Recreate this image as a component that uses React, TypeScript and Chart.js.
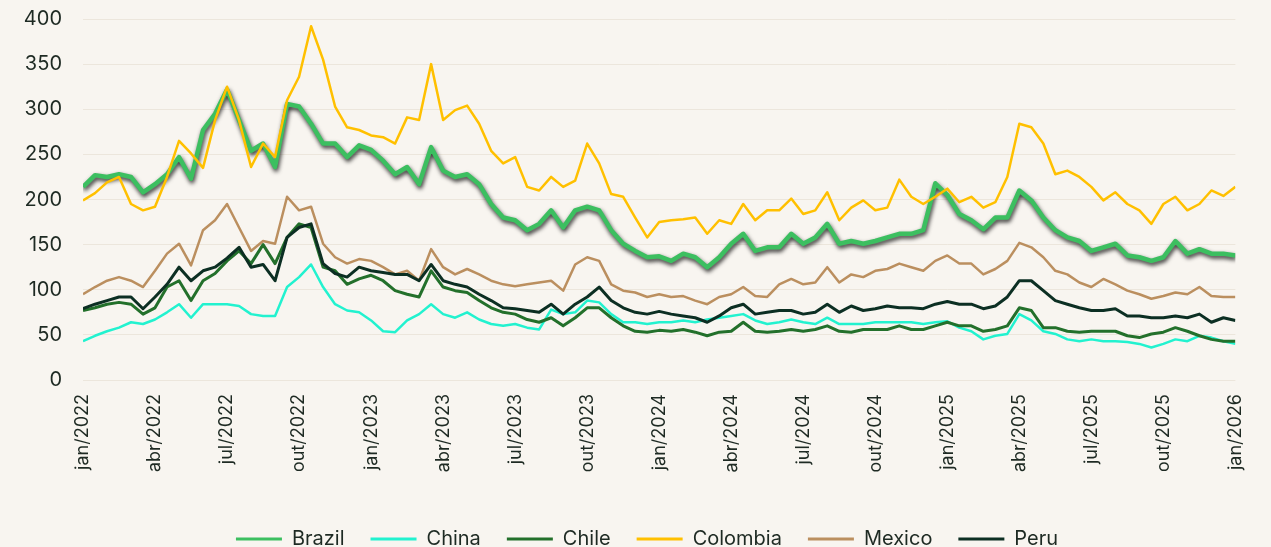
import React, { useEffect, useRef } from "react";
import { Chart, registerables } from "chart.js";

Chart.register(...registerables);

// Quarter tick labels (x axis, months since jan/2022, every 3 months)
const quarterLabels = [
  "jan/2022", "abr/2022", "jul/2022", "out/2022",
  "jan/2023", "abr/2023", "jul/2023", "out/2023",
  "jan/2024", "abr/2024", "jul/2024", "out/2024",
  "jan/2025", "abr/2025", "jul/2025", "out/2025",
  "jan/2026",
];

// Series sampled every half month from jan/2022 to jan/2026 (97 points)
const brazil = [
  214, 227, 225, 228, 225, 208, 217, 228, 247, 223, 277, 295, 322, 288, 254, 262, 236, 306, 303, 284, 262, 262, 247, 260, 255,
  243, 228, 236, 217, 258, 232, 225, 228, 217, 195, 180, 177, 166, 173, 188, 169, 188, 192, 188, 166, 151, 143, 136, 137,
  132, 140, 136, 125, 136, 151, 162, 143, 147, 147, 162, 151, 158, 173, 151, 154, 151, 154, 158, 162, 162, 166, 218, 205,
  184, 177, 167, 180, 180, 210, 199, 180, 166, 158, 154, 143, 147, 151, 138, 136, 132, 136, 154, 140, 145, 140, 140, 138,
];

const china = [
  43, 49, 54, 58, 64, 62, 67, 75, 84, 69, 84, 84, 84, 82, 73, 71, 71, 103, 114, 128, 103, 84, 77, 75, 66,
  54, 53, 66, 73, 84, 73, 69, 75, 67, 62, 60, 62, 58, 56, 78, 73, 75, 88, 86, 73, 64, 64, 62, 64,
  64, 66, 64, 67, 69, 71, 73, 66, 62, 64, 67, 64, 62, 69, 62, 62, 62, 64, 64, 64, 64, 62, 64, 65,
  58, 54, 45, 49, 51, 73, 66, 54, 51, 45, 43, 45, 43, 43, 42, 40, 36, 40, 45, 43, 49, 47, 43, 40,
];

const chile = [
  77, 80, 84, 86, 84, 73, 80, 103, 110, 88, 110, 118, 132, 143, 129, 150, 129, 158, 173, 169, 125, 121, 106, 112, 116,
  110, 99, 95, 92, 121, 103, 99, 97, 88, 80, 75, 73, 67, 64, 69, 60, 69, 80, 80, 69, 60, 54, 53, 55,
  54, 56, 53, 49, 53, 54, 64, 54, 53, 54, 56, 54, 56, 60, 54, 53, 56, 56, 56, 60, 56, 56, 60, 64,
  60, 60, 54, 56, 60, 80, 77, 58, 58, 54, 53, 54, 54, 54, 49, 47, 51, 53, 58, 54, 49, 45, 43, 43,
];

const colombia = [
  199, 207, 219, 225, 195, 188, 192, 225, 265, 251, 235, 288, 325, 288, 236, 262, 247, 310, 336, 392, 355, 303, 280, 277, 271,
  269, 262, 291, 288, 350, 288, 299, 304, 284, 254, 240, 247, 214, 210, 225, 214, 221, 262, 240, 206, 203, 180, 158, 175,
  177, 178, 180, 162, 177, 173, 195, 177, 188, 188, 201, 184, 188, 208, 177, 191, 199, 188, 191, 222, 203, 195, 203, 212,
  197, 203, 191, 197, 225, 284, 280, 262, 228, 232, 225, 214, 199, 208, 195, 188, 173, 195, 203, 188, 195, 210, 204, 214,
];

const mexico = [
  95, 103, 110, 114, 110, 103, 121, 140, 151, 127, 166, 177, 195, 169, 143, 154, 151, 203, 188, 192, 151, 136, 129, 134, 132,
  125, 117, 121, 110, 145, 125, 117, 123, 117, 110, 106, 104, 106, 108, 110, 99, 128, 136, 132, 106, 99, 97, 92, 95,
  92, 93, 88, 84, 92, 95, 103, 93, 92, 106, 112, 106, 108, 125, 108, 117, 114, 121, 123, 129, 125, 121, 132, 138,
  129, 129, 117, 123, 132, 152, 147, 136, 121, 117, 108, 103, 112, 106, 99, 95, 90, 93, 97, 95, 103, 93, 92, 92,
];

const peru = [
  79, 84, 88, 92, 92, 79, 92, 106, 125, 110, 121, 125, 135, 147, 125, 128, 110, 158, 169, 173, 129, 118, 114, 125, 121,
  119, 117, 117, 110, 128, 110, 106, 103, 95, 88, 80, 79, 77, 75, 84, 73, 84, 92, 103, 88, 80, 75, 73, 76,
  73, 71, 69, 64, 71, 80, 84, 73, 75, 77, 77, 73, 75, 84, 75, 82, 77, 79, 82, 80, 80, 79, 84, 87,
  84, 84, 79, 82, 92, 110, 110, 99, 88, 84, 80, 77, 77, 79, 71, 71, 69, 69, 71, 69, 73, 64, 69, 66,
];

const seriesNames = ["Brazil", "China", "Chile", "Colombia", "Mexico", "Peru"];
const seriesValues = [brazil, china, chile, colombia, mexico, peru];
const seriesColors = ["#3cbf60", "#22f2cf", "#23702b", "#ffc000", "#bb8f5f", "#0c2f23"];
const seriesWidths = [4.5, 2.5, 3, 2.5, 2.5, 3];

const BG = "#f8f5f0";
const TEXT = "#1e2a23";
const FONT = "Inter, 'Open Sans', 'DejaVu Sans', sans-serif";

const backgroundPlugin = {
  id: "bgFill",
  beforeDraw(chart: any) {
    const { ctx, width, height } = chart;
    ctx.save();
    ctx.fillStyle = BG;
    ctx.fillRect(0, 0, width, height);
    ctx.restore();
  },
};

const shadowPlugin = {
  id: "brazilShadow",
  beforeDatasetDraw(chart: any, args: any) {
    if (args.index !== 0) return;
    const ctx = chart.ctx;
    ctx.save();
    ctx.shadowColor = "rgba(0,0,0,0.8)";
    ctx.shadowBlur = 4;
    ctx.shadowOffsetX = 1;
    ctx.shadowOffsetY = 2.5;
  },
  afterDatasetDraw(chart: any, args: any) {
    if (args.index !== 0) return;
    chart.ctx.restore();
  },
};

// nudge the legend down and to the right, as in the reference
const legendShiftPlugin = {
  id: "legendShift",
  afterLayout(chart: any) {
    const lg = chart.legend;
    if (lg) {
      lg.left += 18;
      lg.right += 18;
      lg.top += 12;
      lg.bottom += 12;
    }
  },
};

export default function App() {
  const canvasRef = useRef<HTMLCanvasElement | null>(null);

  useEffect(() => {
    document.body.style.margin = "0";
    document.body.style.background = BG;
    const canvas = canvasRef.current;
    if (!canvas) return;

    const datasets = seriesNames.map((name, i) => ({
      label: name,
      data: seriesValues[i].map((v, j) => ({ x: j / 2, y: v })),
      borderColor: seriesColors[i],
      backgroundColor: seriesColors[i],
      borderWidth: seriesWidths[i],
      pointRadius: 0,
      pointHoverRadius: 0,
      tension: 0,
      fill: false,
      borderJoinStyle: "round" as const,
      order: seriesNames.length - i,
    }));

    const chart = new Chart(canvas, {
      type: "line",
      data: { datasets },
      plugins: [backgroundPlugin, shadowPlugin, legendShiftPlugin],
      options: {
        animation: false,
        responsive: false,
        maintainAspectRatio: false,
        layout: { padding: { top: 19, right: 13, left: 0, bottom: 0 } },
        plugins: {
          tooltip: { enabled: false },
          legend: {
            position: "bottom",
            labels: {
              boxWidth: 46,
              boxHeight: 3,
              padding: 26,
              color: TEXT,
              font: { family: FONT, size: 20 },
              sort: (a: any, b: any) => a.datasetIndex - b.datasetIndex,
              generateLabels: (ch: any) =>
                ch.data.datasets.map((ds: any, i: number) => ({
                  text: ds.label,
                  fillStyle: ds.borderColor,
                  strokeStyle: ds.borderColor,
                  lineWidth: 0,
                  hidden: false,
                  datasetIndex: i,
                  fontColor: TEXT,
                })),
            },
          },
        },
        scales: {
          x: {
            type: "linear",
            min: 0,
            max: 48,
            grid: { display: false, drawTicks: false },
            border: { display: false },
            afterFit: (scale: any) => {
              scale.height = 111;
            },
            ticks: {
              stepSize: 3,
              autoSkip: false,
              minRotation: 90,
              maxRotation: 90,
              padding: 14,
              color: TEXT,
              font: { family: FONT, size: 18 },
              callback: (v: any) => {
                const idx = Math.round(Number(v) / 3);
                return Math.abs(Number(v) - idx * 3) < 1e-6 ? quarterLabels[idx] ?? "" : "";
              },
            },
          },
          y: {
            min: 0,
            max: 400,
            grid: {
              color: "#ece6dc",
              lineWidth: 1,
              drawTicks: true,
              tickLength: 21,
              tickColor: "rgba(0,0,0,0)",
            },
            border: { display: false },
            afterFit: (scale: any) => {
              scale.width = 83;
            },
            ticks: {
              stepSize: 50,
              padding: 0,
              color: TEXT,
              font: { family: FONT, size: 20 },
            },
          },
        },
      },
    });

    return () => {
      chart.destroy();
    };
  }, []);

  return (
    <div style={{ width: 1271, height: 547, background: BG }}>
      <canvas ref={canvasRef} width={1271} height={547} style={{ display: "block" }} />
    </div>
  );
}
